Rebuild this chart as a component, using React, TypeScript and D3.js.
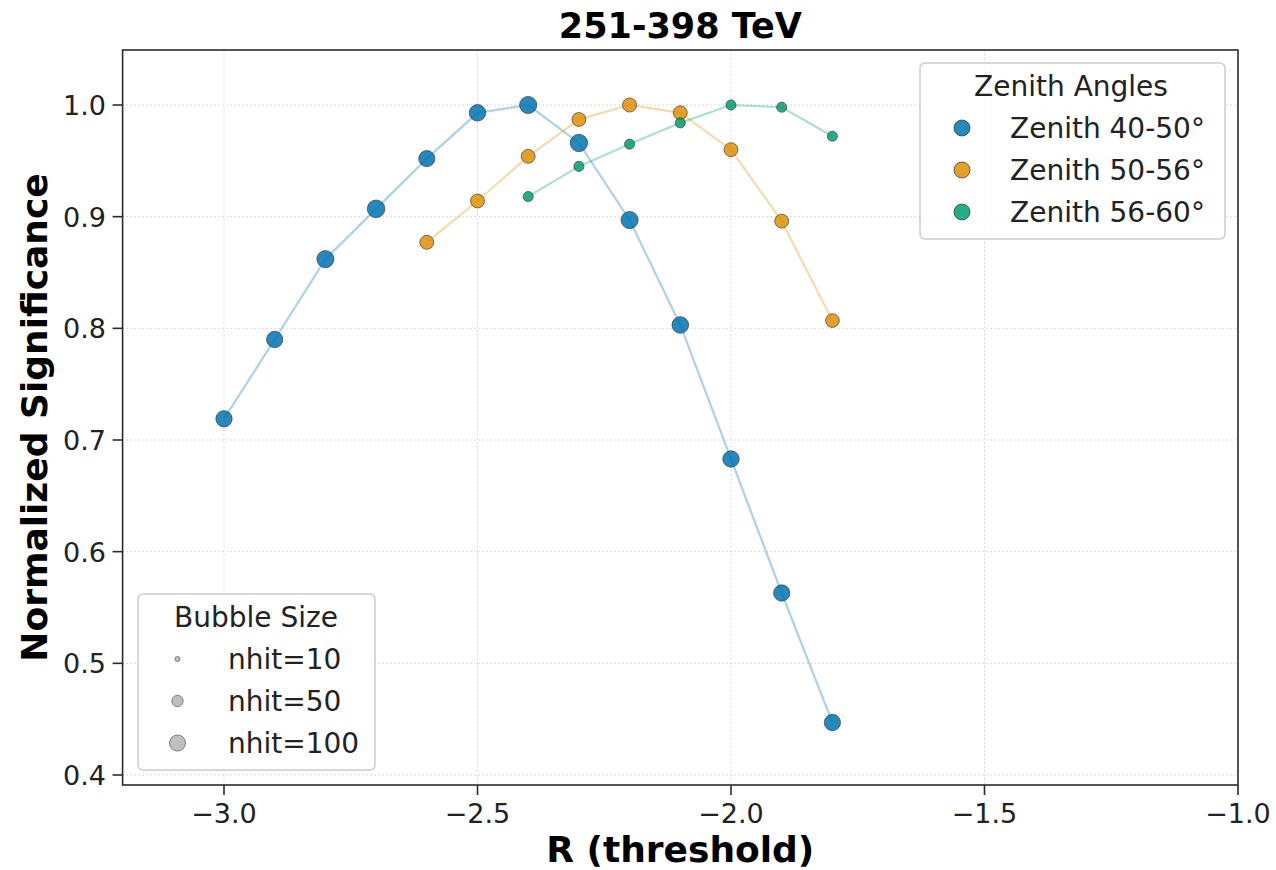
import React from 'react';
import * as d3 from 'd3';

// ---- Data ----
const seriesNames = ['Zenith 40-50°', 'Zenith 50-56°', 'Zenith 56-60°'];
const seriesColors = ['#0173b2', '#de8f05', '#029e73'];

const r4050 = [-3.0, -2.9, -2.8, -2.7, -2.6, -2.5, -2.4, -2.3, -2.2, -2.1, -2.0, -1.9, -1.8];
const sig4050 = [0.719, 0.790, 0.862, 0.907, 0.952, 0.993, 1.0, 0.966, 0.897, 0.803, 0.683, 0.563, 0.447];
const nhit4050 = [104, 104, 115, 122, 102, 106, 116, 118, 116, 108, 106, 104, 104];

const r5056 = [-2.6, -2.5, -2.4, -2.3, -2.2, -2.1, -2.0, -1.9, -1.8];
const sig5056 = [0.877, 0.914, 0.954, 0.987, 1.0, 0.993, 0.960, 0.896, 0.807];
const nhit5056 = [76, 76, 76, 76, 78, 76, 76, 76, 74];

const r5660 = [-2.4, -2.3, -2.2, -2.1, -2.0, -1.9, -1.8];
const sig5660 = [0.918, 0.945, 0.965, 0.984, 1.0, 0.998, 0.972];
const nhit5660 = [40, 40, 40, 40, 40, 40, 40];

const xTicks = [-3.0, -2.5, -2.0, -1.5, -1.0];
const yTicks = [0.4, 0.5, 0.6, 0.7, 0.8, 0.9, 1.0];
const bubbleLegend = [10, 50, 100];

const allR = [r4050, r5056, r5660];
const allSig = [sig4050, sig5056, sig5660];
const allNhit = [nhit4050, nhit5056, nhit5660];

// ---- Layout ----
const W = 1276;
const H = 870;
const left = 122.6;
const right = 1238;
const top = 50;
const bottom = 785;
const FONT = 'DejaVu Sans, sans-serif';

export default function App() {
  const x = d3.scaleLinear().domain([-3.2, -1.0]).range([left, right]);
  const y = d3.scaleLinear().domain([0.39105, 1.04925]).range([bottom, top]);
  const rad = (n: number) => 0.8 * Math.sqrt(n);
  const fmt = d3.format('.1f');

  const line = d3
    .line<[number, number]>()
    .x((d) => x(d[0]))
    .y((d) => y(d[1]));

  return (
    <svg
      width={W}
      height={H}
      style={{ position: 'absolute', left: 0, top: 0, background: '#fff' }}
      fontFamily={FONT}
    >
      <rect x={0} y={0} width={W} height={H} fill="#fff" />
      {/* grid */}
      {xTicks.map((t) => (
        <line
          key={'gx' + t}
          x1={x(t)}
          x2={x(t)}
          y1={top}
          y2={bottom}
          stroke="#cfcfcf"
          strokeWidth={1}
          strokeDasharray="1.5,2.5"
        />
      ))}
      {yTicks.map((t) => (
        <line
          key={'gy' + t}
          x1={left}
          x2={right}
          y1={y(t)}
          y2={y(t)}
          stroke="#cfcfcf"
          strokeWidth={1}
          strokeDasharray="1.5,2.5"
        />
      ))}

      {/* series */}
      {allR.map((rs, si) => {
        const pts: [number, number][] = rs.map((r, i) => [r, allSig[si][i]]);
        return (
          <g key={'s' + si}>
            <path
              d={line(pts) || ''}
              fill="none"
              stroke={seriesColors[si]}
              strokeOpacity={0.32}
              strokeWidth={2.2}
            />
            {pts.map((p, i) => (
              <circle
                key={i}
                cx={x(p[0])}
                cy={y(p[1])}
                r={rad(allNhit[si][i])}
                fill={seriesColors[si]}
                fillOpacity={0.85}
                stroke="#333"
                strokeOpacity={0.8}
                strokeWidth={0.8}
              />
            ))}
          </g>
        );
      })}

      {/* spines */}
      <rect
        x={left}
        y={top}
        width={right - left}
        height={bottom - top}
        fill="none"
        stroke="#2b2b2b"
        strokeWidth={1.6}
      />

      {/* x ticks */}
      {xTicks.map((t) => (
        <g key={'xt' + t}>
          <line x1={x(t)} x2={x(t)} y1={bottom} y2={bottom + 10} stroke="#2b2b2b" strokeWidth={1.6} />
          <text x={x(t)} y={823} textAnchor="middle" fontSize={27} fill="#222">
            {fmt(t)}
          </text>
        </g>
      ))}
      {/* y ticks */}
      {yTicks.map((t) => (
        <g key={'yt' + t}>
          <line x1={left - 10} x2={left} y1={y(t)} y2={y(t)} stroke="#2b2b2b" strokeWidth={1.6} />
          <text x={106} y={y(t) + 10} textAnchor="end" fontSize={27} fill="#222">
            {fmt(t)}
          </text>
        </g>
      ))}

      {/* labels */}
      <text x={(left + right) / 2} y={38} textAnchor="middle" fontSize={35} fontWeight="bold" fill="#000">
        251-398 TeV
      </text>
      <text x={(left + right) / 2} y={862} textAnchor="middle" fontSize={36} fontWeight="bold" fill="#000">
        R (threshold)
      </text>
      <text
        transform={`translate(47, ${(top + bottom) / 2}) rotate(-90)`}
        textAnchor="middle"
        fontSize={36}
        fontWeight="bold"
        fill="#000"
      >
        Normalized Significance
      </text>

      {/* Zenith legend */}
      <g>
        <rect x={920} y={63} width={305} height={176} rx={5} fill="#fff" fillOpacity={0.8} stroke="#cccccc" strokeWidth={1.5} />
        <text x={1071} y={96} textAnchor="middle" fontSize={28} fill="#222">
          Zenith Angles
        </text>
        {seriesNames.map((n, i) => {
          const cy = 128 + i * 42;
          return (
            <g key={'lz' + i}>
              <circle cx={962} cy={cy} r={8} fill={seriesColors[i]} fillOpacity={0.85} stroke="#333" strokeOpacity={0.8} strokeWidth={0.9} />
              <text x={1010} y={cy + 10} fontSize={28} fill="#222">
                {n}
              </text>
            </g>
          );
        })}
      </g>

      {/* Bubble legend */}
      <g>
        <rect x={138} y={594} width={237} height={176} rx={5} fill="#fff" fillOpacity={0.8} stroke="#cccccc" strokeWidth={1.5} />
        <text x={256} y={627} textAnchor="middle" fontSize={28} fill="#222">
          Bubble Size
        </text>
        {bubbleLegend.map((n, i) => {
          const cy = 659 + i * 42;
          return (
            <g key={'lb' + n}>
              <circle cx={177.5} cy={cy} r={rad(n)} fill="#808080" fillOpacity={0.5} stroke="#666" strokeOpacity={0.8} strokeWidth={1} />
              <text x={228} y={cy + 10} fontSize={28} fill="#222">
                {'nhit=' + n}
              </text>
            </g>
          );
        })}
      </g>
    </svg>
  );
}
